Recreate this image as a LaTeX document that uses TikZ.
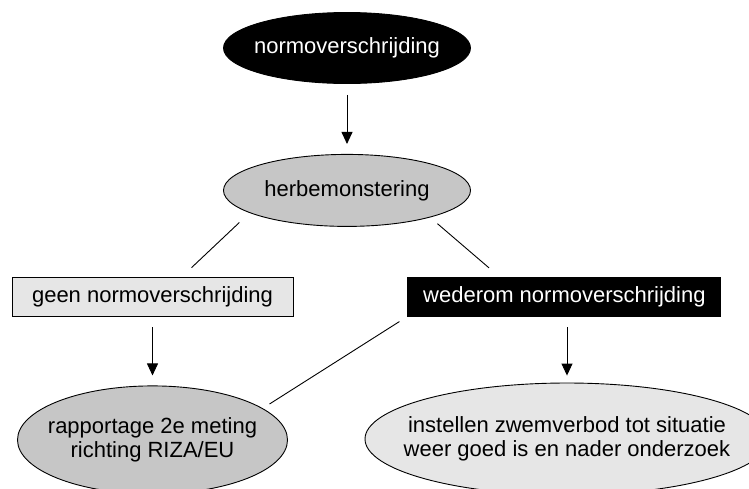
\documentclass[tikz,border=0pt]{standalone}
\usepackage{fontspec}
\setmainfont{Liberation Sans}
\usepackage{xcolor}
\usepackage{tikz}
\usetikzlibrary{arrows.meta,positioning,shapes.geometric}
\definecolor{ChartMid}{HTML}{C6C6C6}
\definecolor{ChartPale}{HTML}{E6E6E6}
\tikzset{
  oval/.style={
    ellipse,
    draw=black,
    line width=0.9pt,
    inner xsep=-30pt,
    inner ysep=0pt,
    align=center,
    font=\fontsize{22}{23.5}\selectfont
  },
  darkoval/.style={oval,fill=black,text=white},
  midoval/.style={oval,fill=ChartMid},
  paleoval/.style={oval,fill=ChartPale},
  outcome/.style={
    rectangle,
    draw=black,
    line width=0.9pt,
    inner sep=0pt,
    minimum height=39pt,
    font=\fontsize{22}{23.5}\selectfont
  },
  flowarrow/.style={-{Triangle[width=11pt,length=12pt]},line width=0.9pt,shorten <=11pt,shorten >=10pt},
  flowline/.style={line width=0.9pt}
}

\begin{document}
\begin{tikzpicture}[x=1pt,y=-1pt]
    \useasboundingbox (0,0) rectangle (749,488);
    \clip (0,0) rectangle (749,488);

    \node[darkoval,minimum width=247pt,minimum height=71pt] (start) at (347,48) {normoverschrijding};
    \node[midoval,minimum width=247pt,minimum height=72pt,below=70pt of start] (resample) {herbemonstering};

    \node[outcome,fill=ChartPale,minimum width=281pt] (clear) at (152.5,296.5) {geen normoverschrijding};
    \node[outcome,fill=black,text=white,minimum width=313pt,right=114pt of clear] (exceed) {wederom normoverschrijding};

    \node[midoval,minimum width=270pt,minimum height=108pt,below=69pt of clear] (report) {rapportage 2e meting\\richting RIZA/EU};
    \node[paleoval,minimum width=404pt,minimum height=112pt] (ban) at (567,439) {instellen zwemverbod tot situatie\\weer goed is en nader onderzoek};

    \draw[flowarrow] (start) -- (resample);
    \draw[flowline,shorten <=14pt,shorten >=13pt] (resample.193.4) -- (clear.34.4);
    \draw[flowline,shorten <=9.6pt,shorten >=13.4pt] (resample.342.5) -- (exceed.163.3);
    \draw[flowarrow] (clear) -- (report);
    \draw[flowarrow,shorten >=7pt] (ban.north |- exceed.south) -- (ban.north);
    \draw[flowline,shorten <=9.5pt,shorten >=8pt] (exceed.south west) -- (report.16.4);
  \end{tikzpicture}
\end{document}
